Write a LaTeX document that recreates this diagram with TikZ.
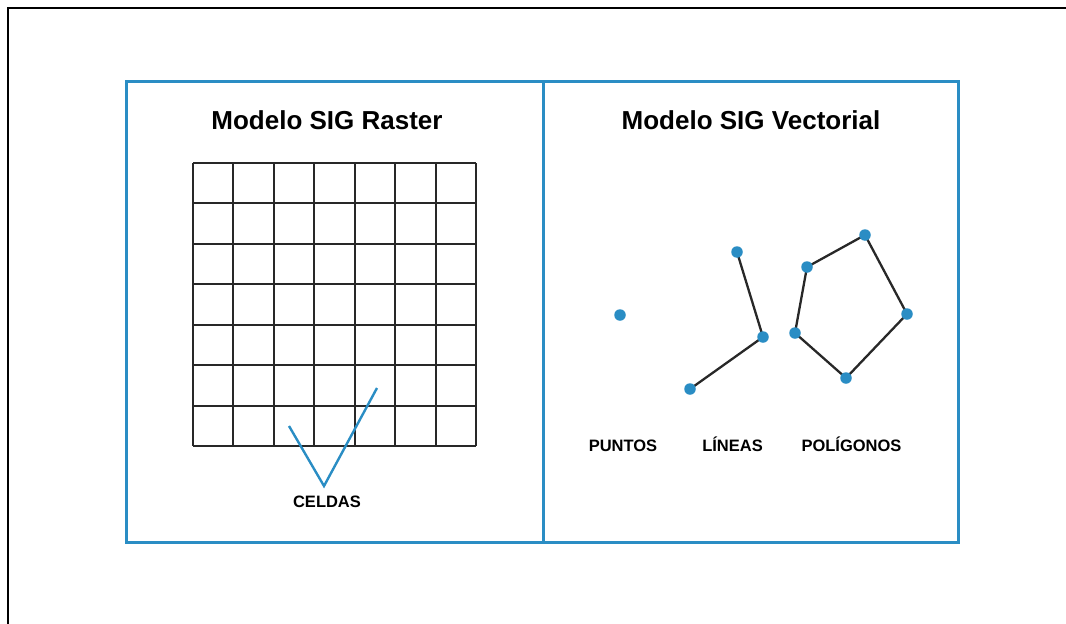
\documentclass[tikz,border=0pt]{standalone}
\usepackage{fontspec}
\setmainfont{Liberation Sans}
\definecolor{sigblue}{RGB}{42,141,196}
\definecolor{griddark}{RGB}{40,40,40}
\begin{document}
\begin{tikzpicture}[x=1pt,y=-1pt,
  frameline/.style={line width=2.2pt,black},
  panel/.style={line width=3pt,sigblue},
  gridline/.style={line width=1.9pt,griddark},
  vdot/.style={circle,fill=sigblue,inner sep=0pt,minimum size=11.5pt},
  vedge/.style={line width=2.3pt,griddark},
  title/.style={font=\fontsize{26}{30}\selectfont\bfseries,anchor=base},
  label/.style={font=\fontsize{16.5}{19}\selectfont\bfseries,anchor=base},
  pointer/.style={line width=2.4pt,sigblue}]
\useasboundingbox (0,0) rectangle (1066,624);
% outer frame (top and left edges)
\draw[frameline] (8,625) -- (8,8) -- (1067,8);
% panels
\draw[panel] (126,81) rectangle (958,542);
\draw[panel] (543,81) -- (543,542);
% titles
\node[title] (traster) at (327,129) {Modelo SIG Raster};
\node[title] (tvector) at (751,129) {Modelo SIG Vectorial};
% raster grid
\foreach \i in {0,...,7}{
  \draw[gridline] ({193+\i*40.43},163) -- ({193+\i*40.43},446);
  \draw[gridline] (193,{163+\i*40.43}) -- (476,{163+\i*40.43});
}
% celdas pointer
\coordinate (vl) at (289,426);
\coordinate (vb) at (324,486);
\coordinate (vr) at (377,388);
\draw[pointer] (vl) -- (vb) -- (vr);
\node[label] (celdas) at (327,507) {CELDAS};
% vector edges
\coordinate (cl1) at (737,252);
\coordinate (cl2) at (763,337);
\coordinate (cl3) at (690,389);
\coordinate (ca) at (807,267);
\coordinate (cb) at (865,235);
\coordinate (cc) at (907,314);
\coordinate (cd) at (846,378);
\coordinate (ce) at (795,333);
\draw[vedge] (cl1) -- (cl2) -- (cl3);
\draw[vedge] (ca) -- (cb) -- (cc) -- (cd) -- (ce) -- cycle;
% vector dots
\node[vdot] (p1) at (620,315) {};
\node[vdot] (l1) at (cl1) {};
\node[vdot] (l2) at (cl2) {};
\node[vdot] (l3) at (cl3) {};
\node[vdot] (a) at (ca) {};
\node[vdot] (b) at (cb) {};
\node[vdot] (c) at (cc) {};
\node[vdot] (d) at (cd) {};
\node[vdot] (e) at (ce) {};
% labels
\node[label] (puntos) at (623,451) {PUNTOS};
\node[label] (lineas) at (732.5,451) {LÍNEAS};
\node[label] (poligonos) at (851.5,451) {POLÍGONOS};
\end{tikzpicture}
\end{document}
